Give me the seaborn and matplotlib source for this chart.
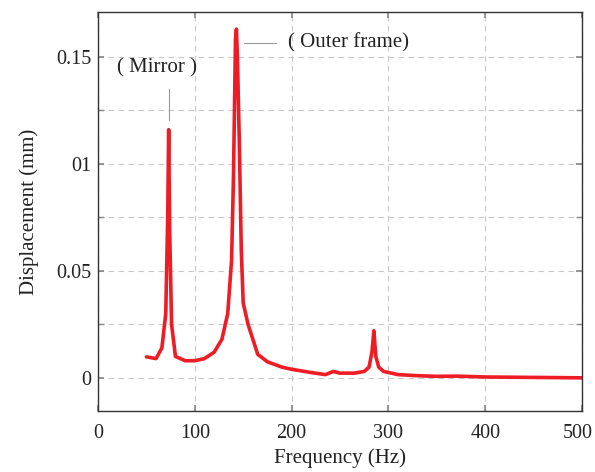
import numpy as np
import pandas as pd
import matplotlib
matplotlib.use("Agg")
import matplotlib.pyplot as plt
import matplotlib.transforms as mtransforms
import seaborn as sns

# values
freq = [50, 60, 66, 70, 72, 73, 74, 76, 80, 90, 100, 110, 120, 128, 134, 138, 140, 142, 143,
        144, 146, 148, 150, 155, 160, 165, 175, 190, 200, 220, 235, 243, 250, 265, 275, 280,
        283, 285, 287, 290, 295, 310, 330, 350, 370, 400, 450, 500]
disp = [0.0098, 0.0090, 0.014, 0.030, 0.075, 0.116, 0.070, 0.025, 0.010, 0.0080, 0.0080,
        0.0090, 0.012, 0.018, 0.030, 0.055, 0.095, 0.158, 0.163, 0.150, 0.110, 0.060, 0.035,
        0.025, 0.018, 0.011, 0.0075, 0.0050, 0.0040, 0.0025, 0.0015, 0.0030, 0.0022, 0.0022,
        0.0030, 0.0050, 0.012, 0.022, 0.010, 0.0050, 0.0030, 0.0015, 0.0010, 0.0007, 0.0008,
        0.0004, 0.0002, 0.0000]

x_ticks = [0, 100, 200, 300, 400, 500]
y_ticks = [0, 0.05, 0.1, 0.15]
y_tick_labels = ["0", "0.05", "01", "0.15"]

df = pd.DataFrame({"Frequency (Hz)": freq, "Displacement (mm)": disp})

sns.set_theme(style="white")
plt.rcParams["font.family"] = ["Liberation Serif", "DejaVu Serif"]

fig = plt.figure(figsize=(5.95, 4.72), dpi=100)
ax = fig.add_axes([98 / 595, 1 - 411 / 472, (582 - 98) / 595, (411 - 12) / 472])

sns.lineplot(data=df, x="Frequency (Hz)", y="Displacement (mm)", ax=ax,
             color="#ee1c25", linewidth=2.6)

ax.set_xlim(0, 500)
ax.set_ylim(-0.0155, 0.171)
ax.set_xticks(x_ticks)
ax.set_xticklabels([str(t) for t in x_ticks])
ax.set_yticks(y_ticks)
ax.set_yticklabels(y_tick_labels)
ax.set_yticks(np.arange(0.025, 0.17, 0.05), minor=True)

ax.grid(True, which="both", axis="y", color="#c8c8c8", linestyle=(0, (5, 4)), linewidth=0.8)
ax.grid(True, which="major", axis="x", color="#c8c8c8", linestyle=(0, (5, 4)), linewidth=0.8)
ax.tick_params(axis="both", which="both", direction="in", top=True, right=True,
               left=True, bottom=True, labelsize=14.5, length=4,
               color="#888888", labelcolor="#222222")
ax.tick_params(axis="x", pad=9)
ax.tick_params(axis="y", pad=5)
for s in ax.spines.values():
    s.set_color("#333333")
    s.set_linewidth(1.0)

# nudge the last x label so it stays inside the figure
last = ax.get_xticklabels()[-1]
last.set_transform(last.get_transform() + mtransforms.ScaledTranslation(-4 / 100, 0, fig.dpi_scale_trans))

ax.set_xlabel("Frequency (Hz)", fontsize=15, color="#222222", labelpad=4)
ax.set_ylabel("Displacement (mm)", fontsize=15, color="#222222", labelpad=12)

# annotations
ax.plot([73, 73], [0.1205, 0.135], color="#999999", linewidth=0.8)
ax.text(61, 0.145, "( Mirror )", ha="center", va="center", fontsize=15, color="#222222")
ax.plot([151, 184], [0.1565, 0.1565], color="#999999", linewidth=0.8)
ax.text(196, 0.1565, "( Outer frame)", ha="left", va="center", fontsize=15, color="#222222")

fig.savefig("out.png", dpi=100)
